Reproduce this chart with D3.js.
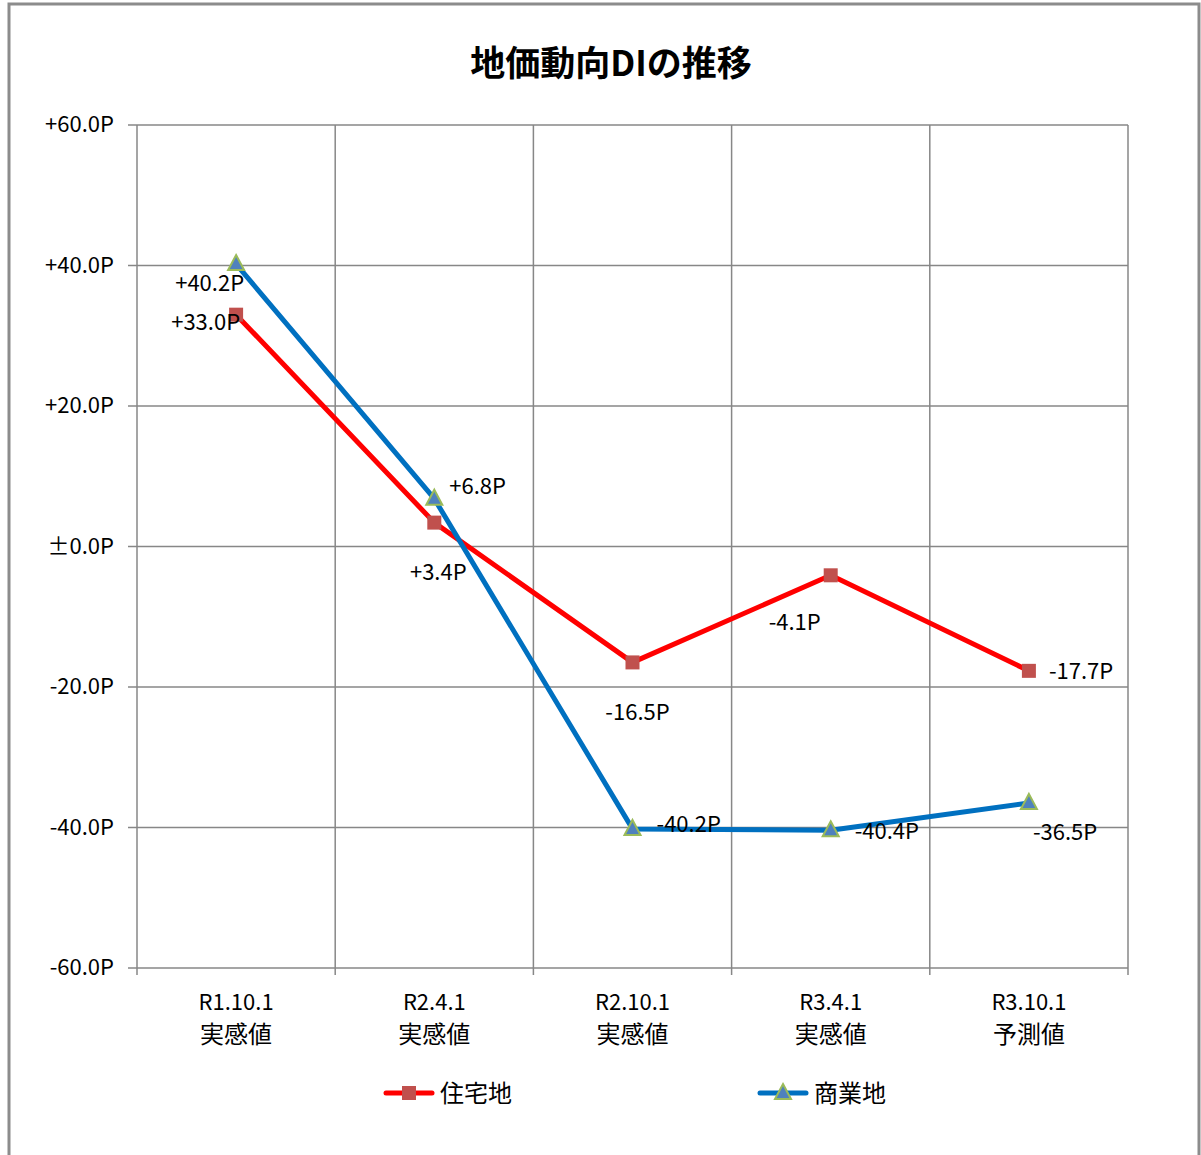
<html>
  <head>
    <meta charset="UTF-8" />
    <style>
      body { margin: 0; background: #fff; }
      text { font-family: "Noto Sans CJK JP", "Noto Sans", sans-serif; fill: #000; }
    </style>
    <script src="https://d3js.org/d3.v7.min.js"></script>
  </head>
  <body>
    <svg id="svg"></svg>
    <script>
      // data
      var categories = ["R1.10.1", "R2.4.1", "R2.10.1", "R3.4.1", "R3.10.1"];
      var subLabels = ["実感値", "実感値", "実感値", "実感値", "予測値"];
      var residential = [33.0, 3.4, -16.5, -4.1, -17.7];
      var commercial = [40.2, 6.8, -40.2, -40.4, -36.5];
      var yTicks = [60, 40, 20, 0, -20, -40, -60];

      var width = 1201, height = 1155;
      var pLeft = 137, pRight = 1128, pTop = 125, pBottom = 968;

      var svg = d3.select("#svg").attr("width", width).attr("height", height);

      // outer frame (bottom edge is cut off in the original)
      svg.append("path")
        .attr("d", "M9,1155V4H1199V1155")
        .attr("fill", "none")
        .attr("stroke", "#8c8c8c")
        .attr("stroke-width", 3);

      svg.append("text")
        .attr("x", 611).attr("y", 76)
        .attr("text-anchor", "middle")
        .style("font-size", "35px")
        .style("font-weight", "bold")
        .text("地価動向DIの推移");

      var x = d3.scaleBand().domain(categories).range([pLeft, pRight]);
      var y = d3.scaleLinear().domain([-60, 60]).range([pBottom, pTop]);
      var cx = (d) => x(d) + x.bandwidth() / 2;

      var grid = svg.append("g");
      // horizontal grid
      yTicks.forEach((t) => {
        grid.append("line")
          .attr("x1", pLeft - 9).attr("x2", pRight)
          .attr("y1", y(t)).attr("y2", y(t))
          .attr("stroke", "#878787").attr("stroke-width", 1.5);
      });
      // vertical grid
      categories.forEach((c) => {
        grid.append("line")
          .attr("x1", x(c) + x.bandwidth()).attr("x2", x(c) + x.bandwidth())
          .attr("y1", pTop).attr("y2", pBottom + 7)
          .attr("stroke", "#878787").attr("stroke-width", 1.5);
      });
      grid.append("line")
        .attr("x1", pLeft).attr("x2", pLeft)
        .attr("y1", pTop).attr("y2", pBottom + 7)
        .attr("stroke", "#878787").attr("stroke-width", 1.5);

      // y tick labels
      var fmt = (v) => (v > 0 ? "+" : v < 0 ? "-" : "±") + Math.abs(v).toFixed(1) + "P";
      yTicks.forEach((t) => {
        svg.append("text")
          .attr("x", 114).attr("y", y(t) + 7)
          .attr("text-anchor", "end")
          .style("font-size", "22px")
          .text(fmt(t));
      });

      // x labels
      categories.forEach((c, i) => {
        svg.append("text")
          .attr("x", cx(c)).attr("y", 1010)
          .attr("text-anchor", "middle")
          .style("font-size", "22px")
          .text(c);
        svg.append("text")
          .attr("x", cx(c)).attr("y", 1043)
          .attr("text-anchor", "middle")
          .style("font-size", "24px")
          .text(subLabels[i]);
      });

      var line = d3.line().x((d, i) => cx(categories[i])).y((d) => y(d));

      svg.append("path").datum(residential)
        .attr("d", line).attr("fill", "none")
        .attr("stroke", "#FF0000").attr("stroke-width", 5)
        .attr("stroke-linejoin", "round");
      svg.append("path").datum(commercial)
        .attr("d", line).attr("fill", "none")
        .attr("stroke", "#0070C0").attr("stroke-width", 5)
        .attr("stroke-linejoin", "round");

      function square(g, px, py) {
        g.append("rect")
          .attr("x", px - 7).attr("y", py - 7)
          .attr("width", 14).attr("height", 14)
          .attr("fill", "#C0504D");
      }
      function tri(g, px, py) {
        g.append("path")
          .attr("d", "M" + px + "," + (py - 9) + "L" + (px + 8) + "," + (py + 6) + "L" + (px - 8) + "," + (py + 6) + "Z")
          .attr("fill", "#4F81BD")
          .attr("stroke", "#9BBB59").attr("stroke-width", 2);
      }

      residential.forEach((v, i) => square(svg, cx(categories[i]), y(v)));
      commercial.forEach((v, i) => tri(svg, cx(categories[i]), y(v)));

      // data labels: [dx, dy, anchor] relative to the point
      var resOff = [[4, 15, "end"], [4, 57, "middle"], [5, 58, "middle"], [-36, 55, "middle"], [20, 8, "start"]];
      var comOff = [[8, 27, "end"], [15, -5, "start"], [24, 3, "start"], [24, 9, "start"], [4, 37, "start"]];

      residential.forEach((v, i) => {
        var o = resOff[i];
        svg.append("text")
          .attr("x", cx(categories[i]) + o[0]).attr("y", y(v) + o[1])
          .attr("text-anchor", o[2])
          .style("font-size", "22px")
          .text(fmt(v));
      });
      commercial.forEach((v, i) => {
        var o = comOff[i];
        svg.append("text")
          .attr("x", cx(categories[i]) + o[0]).attr("y", y(v) + o[1])
          .attr("text-anchor", o[2])
          .style("font-size", "22px")
          .text(fmt(v));
      });

      // legend
      var lg = svg.append("g");
      lg.append("line").attr("x1", 386).attr("x2", 432).attr("y1", 1093).attr("y2", 1093)
        .attr("stroke", "#FF0000").attr("stroke-width", 5).attr("stroke-linecap", "round");
      square(lg, 409, 1093);
      lg.append("text").attr("x", 440).attr("y", 1102).style("font-size", "24px").text("住宅地");

      lg.append("line").attr("x1", 760).attr("x2", 806).attr("y1", 1093).attr("y2", 1093)
        .attr("stroke", "#0070C0").attr("stroke-width", 5).attr("stroke-linecap", "round");
      tri(lg, 783, 1093);
      lg.append("text").attr("x", 814).attr("y", 1102).style("font-size", "24px").text("商業地");
    </script>
  </body>
</html>
